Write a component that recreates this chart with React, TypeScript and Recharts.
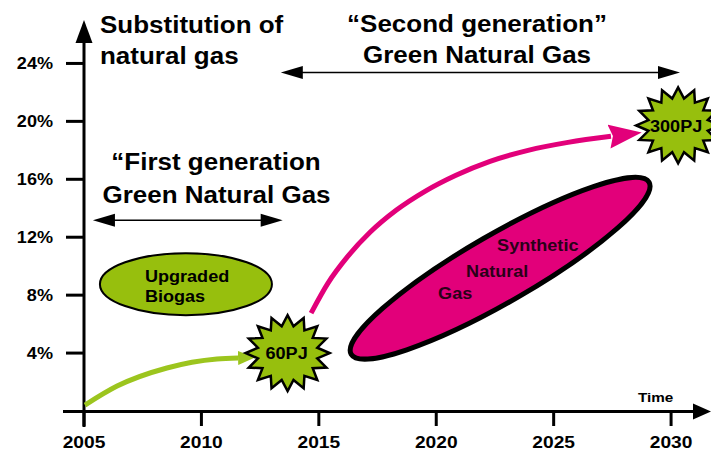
import { ComposedChart, Line, XAxis, YAxis, ReferenceDot, ReferenceLine } from "recharts";

/* ── axis ticks ─────────────────────────────────────── */
const xTicks = [2005, 2010, 2015, 2020, 2025, 2030];
const yTicks = [4, 8, 12, 16, 20, 24];

/* ── growth curves (year, % of natural gas) ─────────── */
const biogasYears = [2005.04, 2006.41, 2008.53, 2010.66, 2011.56];
const biogasPct = [0.41, 1.72, 2.97, 3.59, 3.66];
const sngYears = [2014.67, 2015.39, 2016.24, 2017.18, 2018.29, 2019.52, 2020.84, 2022.29, 2023.91, 2025.61, 2027.44];
const sngPct = [6.76, 8.83, 10.69, 12.34, 13.86, 15.17, 16.28, 17.24, 18.0, 18.55, 18.97];

/* ── milestones ─────────────────────────────────────── */
const milestoneLabels = ["60PJ", "300PJ"];
const milestoneYears = [2013.67, 2030.3];
const milestonePct = [4.0, 19.72];

/* ── generation spans ───────────────────────────────── */
const firstGenSpan = [2005.38, 2013.46];
const firstGenLevel = 13.17;
const secondGenSpan = [2013.38, 2030.38];
const secondGenLevel = 23.38;

/* ── source blobs ───────────────────────────────────── */
const biogasBlob = { year: 2009.34, pct: 8.76 };
const sngBlob = { year: 2022.72, pct: 9.86 };

const biogasData = biogasYears.map((year, i) => ({ year, pct: biogasPct[i] }));
const sngData = sngYears.map((year, i) => ({ year, pct: sngPct[i] }));

const FONT = '"Liberation Sans", Arial, Helvetica, sans-serif';
const SX = 1.13;
const GREEN = "#97bf0d";
const GREEN_LINE = "#9cc51e";
const PINK = "#e2007a";

function Txt({ x, y, size, anchor = "start", fill = "#000", children }: any) {
  return (
    <text
      transform={`translate(${x},${y}) scale(${SX},1)`}
      fontSize={size}
      fontFamily={FONT}
      fontWeight="bold"
      textAnchor={anchor}
      fill={fill}
    >
      {children}
    </text>
  );
}

const XTick = (p: any) => (
  <Txt x={p.x} y={p.y + 22} size={17} anchor="middle">{p.payload.value}</Txt>
);
const YTick = (p: any) => (
  <Txt x={p.x - 13} y={p.y + 6} size={16} anchor="end">{`${p.payload.value}%`}</Txt>
);

function starPoints(cx: number, cy: number, rx: number, ry: number, n: number, inner: number) {
  const pts: string[] = [];
  for (let i = 0; i < n * 2; i++) {
    const a = (Math.PI * i) / n;
    const k = i % 2 === 0 ? 1 : inner;
    pts.push(`${cx + rx * k * Math.cos(a)},${cy + ry * k * Math.sin(a)}`);
  }
  return pts.join(" ");
}

const Star = (label: string, dx: number, dy: number) => (p: any) => (
  <g>
    <polygon points={starPoints(p.cx, p.cy, 42, 38, 16, 0.72)} fill={GREEN} stroke="#000" strokeWidth={2.5} strokeLinejoin="miter" />
    <Txt x={p.cx + dx} y={p.cy + dy} size={16} anchor="middle">{label}</Txt>
  </g>
);

const BiogasShape = (p: any) => (
  <g>
    <ellipse cx={p.cx} cy={p.cy} rx={86} ry={31} fill={GREEN} stroke="#000" strokeWidth={2} />
    <Txt x={p.cx - 41} y={p.cy - 2} size={16}>Upgraded</Txt>
    <Txt x={p.cx - 41} y={p.cy + 18} size={16}>Biogas</Txt>
  </g>
);

const SngShape = (p: any) => (
  <g>
    <ellipse cx={p.cx} cy={p.cy} rx={172} ry={34} fill={PINK} stroke="#000" strokeWidth={5}
      transform={`rotate(-30 ${p.cx} ${p.cy})`} />
    <Txt x={p.cx - 3} y={p.cy - 17} size={16} fill="#2a0018">Synthetic</Txt>
    <Txt x={p.cx - 34} y={p.cy + 9} size={16} fill="#2a0018">Natural</Txt>
    <Txt x={p.cx - 62} y={p.cy + 31} size={16} fill="#2a0018">Gas</Txt>
  </g>
);

const DoubleArrow = (p: any) => {
  const x1 = Math.min(p.x1, p.x2);
  const x2 = Math.max(p.x1, p.x2);
  const y = p.y1;
  return (
    <g>
      <line x1={x1 + 10} y1={y} x2={x2 - 10} y2={y} stroke="#000" strokeWidth={1.5} />
      <polygon points={`${x1},${y} ${x1 + 22},${y - 6.5} ${x1 + 22},${y + 6.5}`} fill="#000" />
      <polygon points={`${x2},${y} ${x2 - 22},${y - 6.5} ${x2 - 22},${y + 6.5}`} fill="#000" />
    </g>
  );
};

const YAxisArrow = (p: any) => {
  const top = Math.min(p.y1, p.y2);
  const bottom = Math.max(p.y1, p.y2);
  const x = p.x1;
  return (
    <g>
      <line x1={x} y1={bottom + 16} x2={x} y2={top + 20} stroke="#000" strokeWidth={3} />
      <polygon points={`${x},${top} ${x - 8.5},${top + 23} ${x + 8.5},${top + 23}`} fill="#000" />
    </g>
  );
};

const XAxisArrow = (p: any) => {
  const left = Math.min(p.x1, p.x2);
  const right = Math.max(p.x1, p.x2);
  const y = p.y1 + 0.5;
  return (
    <g>
      <line x1={left - 21} y1={y} x2={right - 12} y2={y} stroke="#000" strokeWidth={3} />
      <polygon points={`${right},${y} ${right - 18},${y - 8} ${right - 18},${y + 8}`} fill="#000" />
    </g>
  );
};

export default function App() {
  return (
    <div style={{ position: "absolute", left: 0, top: 0, background: "#fff" }}>
      <ComposedChart width={711} height={453} margin={{ top: 20, right: 0, left: 0, bottom: 0 }}>
        <defs>
          <marker id="arrowGreen" markerUnits="userSpaceOnUse" markerWidth={20} markerHeight={16} refX={0} refY={7} orient="auto">
            <path d="M0,0 L17,7 L0,14 Z" fill={GREEN_LINE} />
          </marker>
          <marker id="arrowPink" markerUnits="userSpaceOnUse" markerWidth={36} markerHeight={26} refX={2} refY={12} orient="auto">
            <path d="M0,0 L33,12 L0,24 L4,12 Z" fill={PINK} />
          </marker>
        </defs>
        <XAxis
          type="number"
          dataKey="year"
          domain={[2005, 2031.7]}
          ticks={xTicks}
          allowDataOverflow
          height={42}
          axisLine={false}
          tickLine={{ stroke: "#000", strokeWidth: 3 }}
          tickSize={15}
          tickMargin={0}
          tick={<XTick />}
          interval={0}
        />
        <YAxis
          type="number"
          domain={[0, 27]}
          ticks={yTicks}
          allowDataOverflow
          width={84}
          axisLine={false}
          tickLine={{ stroke: "#000", strokeWidth: 3 }}
          tickSize={18}
          tickMargin={0}
          tick={<YTick />}
          interval={0}
        />
        <ReferenceLine x={2005} ifOverflow="visible" shape={<YAxisArrow />} />
        <ReferenceLine y={0} ifOverflow="visible" shape={<XAxisArrow />} />

        <ReferenceLine
          segment={[{ x: firstGenSpan[0], y: firstGenLevel }, { x: firstGenSpan[1], y: firstGenLevel }]}
          ifOverflow="visible"
          shape={<DoubleArrow />}
        />
        <ReferenceLine
          segment={[{ x: secondGenSpan[0], y: secondGenLevel }, { x: secondGenSpan[1], y: secondGenLevel }]}
          ifOverflow="visible"
          shape={<DoubleArrow />}
        />

        <ReferenceDot x={biogasBlob.year} y={biogasBlob.pct} ifOverflow="visible" shape={BiogasShape} />
        <ReferenceDot x={sngBlob.year} y={sngBlob.pct} ifOverflow="visible" shape={SngShape} />

        <Line
          data={biogasData}
          dataKey="pct"
          type="monotone"
          stroke={GREEN_LINE}
          strokeWidth={5}
          dot={false}
          activeDot={false}
          isAnimationActive={false}
          markerEnd="url(#arrowGreen)"
        />
        <Line
          data={sngData}
          dataKey="pct"
          type="monotone"
          stroke={PINK}
          strokeWidth={5}
          dot={false}
          activeDot={false}
          isAnimationActive={false}
          markerEnd="url(#arrowPink)"
        />

        {milestoneLabels.map((label, i) => (
          <ReferenceDot
            key={label}
            x={milestoneYears[i]}
            y={milestonePct[i]}
            ifOverflow="visible"
            shape={Star(label, i === 0 ? -1 : -2, i === 0 ? 5.5 : 7)}
          />
        ))}

        <g>
          <Txt x={100} y={33} size={23}>Substitution of</Txt>
          <Txt x={100} y={64} size={23}>natural gas</Txt>
          <Txt x={477} y={32} size={23} anchor="middle">“Second generation”</Txt>
          <Txt x={477} y={63} size={23} anchor="middle">Green Natural Gas</Txt>
          <Txt x={216} y={170} size={23} anchor="middle">“First generation</Txt>
          <Txt x={216.5} y={203} size={23} anchor="middle">Green Natural Gas</Txt>
          <Txt x={638} y={402} size={13.5}>Time</Txt>
        </g>
      </ComposedChart>
    </div>
  );
}
